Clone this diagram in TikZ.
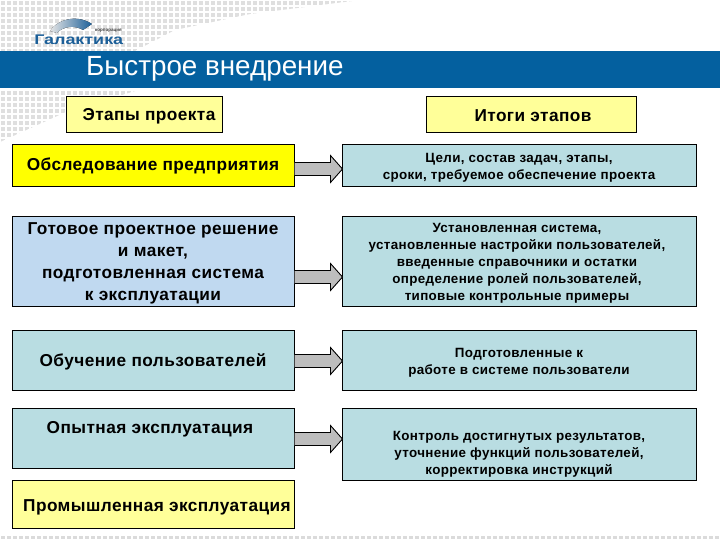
\documentclass[tikz,border=0pt]{standalone}
\usepackage{fontspec}
\setmainfont{Liberation Sans}
\usetikzlibrary{calc}
\definecolor{bandblue}{HTML}{04609F}
\definecolor{lightyel}{HTML}{FFFF99}
\definecolor{pureyel}{HTML}{FFFF00}
\definecolor{paleblue}{HTML}{C0D9F0}
\definecolor{paleteal}{HTML}{B9DDE2}
\definecolor{logoblue}{HTML}{1C5F98}
\definecolor{dotgrey}{HTML}{DFDFDF}
\newfontfamily\spacedbold[LetterSpace=2.5]{Liberation Sans Bold}
\tikzset{
  box/.style={draw=black,line width=0.9pt,inner sep=0pt,outer sep=0pt,anchor=north west},
  blockarrow/.style={draw=black,line width=0.9pt,fill=black!26,line join=miter},
  big/.style={font=\spacedbold\fontsize{17.25}{22}\selectfont,align=center,text=black,inner sep=0pt},
  small/.style={font=\spacedbold\fontsize{13.4}{17}\selectfont,align=center,text=black,inner sep=0pt},
}
\newcommand{\boxat}[7]{% name x y w h colour
  \node[box,fill=#6,minimum width=#4pt,minimum height=#5pt] (#1) at (#2,#3) {};}
\newcommand{\blkarrow}[3]{%
  \coordinate (s) at (#1.east |- 0,#3);
  \coordinate (e) at (#2.west |- 0,#3);
  \draw[blockarrow] ($(s)+(0,-6.5pt)$) -- ($(e)+(-12pt,-6.5pt)$) -- ($(e)+(-12pt,-13.5pt)$) -- (e)
    -- ($(e)+(-12pt,13.5pt)$) -- ($(e)+(-12pt,6.5pt)$) -- ($(s)+(0,6.5pt)$);}
\begin{document}
\begin{tikzpicture}[x=1pt,y=-1pt]
\useasboundingbox (0,0) rectangle (720,540);
\fill[white] (0,0) rectangle (720,540);
% dot screen, top left and under the band
\begin{scope}
  \clip (0,0) -- (360,0) -- (250,14) -- (175,30) -- (135,51) -- (0,51) -- cycle;
  \foreach \i in {0,...,60} \foreach \j in {0,...,8}
    \fill[dotgrey] (3+6*\i-1.8,3+6*\j-1.8) rectangle ++(3.6,3.6);
\end{scope}
\begin{scope}
  \clip (0,88) -- (145,88) -- (66,112) -- (0,142) -- cycle;
  \foreach \i in {0,...,25} \foreach \j in {15,...,24}
    \fill[dotgrey] (3+6*\i-1.8,3+6*\j-1.8) rectangle ++(3.6,3.6);
\end{scope}
\foreach \i in {0,...,119}
  \fill[black!14] (3+6*\i-1.8,536) rectangle ++(3.6,3);
% band
\fill[bandblue] (0,51) rectangle (720,88);
\node[anchor=west,inner sep=0pt,text=white,font=\fontsize{27.8}{30}\selectfont] (title) at (86,69) {Быстрое внедрение};
% logo
\fill[left color=black!10,right color=logoblue]
    (50,31) .. controls (56,21) and (75,13) .. (92,24) -- (83,30)
    .. controls (75,25) and (63,26) .. (57,33) -- cycle;
\node[anchor=west,inner sep=0pt,text=logoblue,font=\bfseries\fontsize{14}{14}\selectfont,xscale=1.28] (logotext) at (34,39.5) {Галактика};
\node[anchor=east,inner sep=0pt,text=black!80,font=\bfseries\fontsize{4.5}{5}\selectfont] (logosmall) at (122,31) {корпорация};
% boxes
\boxat{h1}{66}{96.5}{156}{36}{lightyel}{}
\boxat{h2}{426}{96.5}{210}{36}{lightyel}{}
\boxat{l1}{12.5}{144.5}{282}{42}{pureyel}{}
\boxat{l2}{12.5}{216.5}{282}{90}{paleblue}{}
\boxat{l3}{12.5}{330.5}{282}{60}{paleteal}{}
\boxat{l4}{12.5}{408.5}{282}{60}{paleteal}{}
\boxat{l5}{12.5}{480.5}{282}{48}{lightyel}{}
\boxat{r1}{342.5}{144.5}{354}{42}{paleteal}{}
\boxat{r2}{342.5}{216.5}{354}{90}{paleteal}{}
\boxat{r3}{342.5}{330.5}{354}{60}{paleteal}{}
\boxat{r4}{342.5}{408.5}{354}{72}{paleteal}{}
% arrows
\blkarrow{l1}{r1}{169}
\blkarrow{l2}{r2}{277}
\blkarrow{l3}{r3}{361}
\blkarrow{l4}{r4}{439}
% labels
\node[big] (th1) at (149,116) {Этапы проекта};
\node[big] (th2) at (533,116) {Итоги этапов};
\node[big] (tl1) at (153,166) {Обследование предприятия};
\node[big] (tl2) at (153,263) {Готовое проектное решение\\и макет,\\подготовленная система\\к эксплуатации};
\node[big] (tl3) at (153,362) {Обучение пользователей};
\node[big] (tl4) at (150,429) {Опытная эксплуатация};
\node[big] (tl5) at (157,507) {Промышленная эксплуатация};
\node[small] (tr1) at (519,168) {Цели, состав задач, этапы,\\сроки, требуемое обеспечение проекта};
\node[small] (tr2) at (517,263.5) {Установленная система,\\установленные настройки пользователей,\\введенные справочники и остатки\\определение ролей пользователей,\\типовые контрольные примеры};
\node[small] (tr3) at (519,362.5) {Подготовленные к\\работе в системе пользователи};
\node[small] (tr4) at (519,454.5) {Контроль достигнутых результатов,\\уточнение функций пользователей,\\корректировка инструкций};
\end{tikzpicture}
\end{document}
